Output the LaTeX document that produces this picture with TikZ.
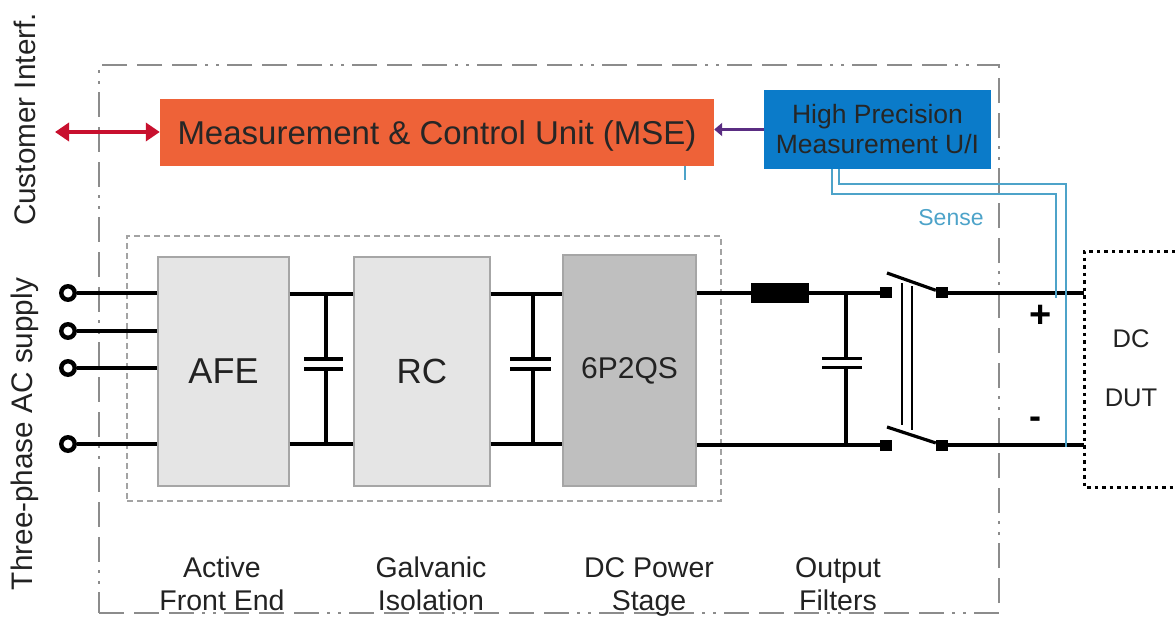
\documentclass[tikz,border=0pt]{standalone}
\usepackage{fontspec}
\setmainfont{Liberation Sans}
\usetikzlibrary{arrows.meta}
\definecolor{msecolor}{HTML}{EE6238}
\definecolor{hpcolor}{HTML}{0B7BC9}
\definecolor{sensecolor}{HTML}{4DA3C9}
\definecolor{framecolor}{HTML}{8C8C8C}
\definecolor{redarrow}{HTML}{C8102E}
\definecolor{purplearrow}{HTML}{5A2D82}
\definecolor{textcolor}{HTML}{222222}
\tikzset{
    stagebox/.style={rectangle,draw=gray!70,line width=1.2pt,fill=gray!20,inner sep=0pt,text=textcolor},
    colorbox/.style={rectangle,inner sep=0pt,align=center,text=black!85},
    terminal/.style={circle,draw,line width=4.4pt,fill=white,inner sep=0pt,minimum size=13.5pt},
    contact/.style={rectangle,fill=black,inner sep=0pt,minimum width=12pt,minimum height=11pt},
    caption/.style={align=center,text=textcolor,text depth=0pt,font=\fontsize{28.5}{33}\selectfont},
    sidetext/.style={rotate=90,text=textcolor,font=\fontsize{29.7}{33}\selectfont},
    wire/.style={line width=4pt},
    sense/.style={draw=sensecolor,line width=1.6pt},
    blade/.style={line width=3.2pt},
    outerframe/.style={draw=framecolor,line width=1.3pt,dash pattern=on 25pt off 10pt on 25pt off 10pt on 25pt off 8pt on 3pt off 8pt on 3pt off 8pt},
    innerframe/.style={draw=framecolor!80,line width=1.1pt,dash pattern=on 6pt off 4pt}
}
\begin{document}
\begin{tikzpicture}[x=1pt,y=-1pt]

            \useasboundingbox (0,0) rectangle (1175,616);

            % frames
            \path (549,339) node (outer) [outerframe,rectangle,minimum width=900pt,minimum height=548pt] {};
            \path (424,368.5) node (inner) [innerframe,rectangle,minimum width=594pt,minimum height=265pt] {};

            \path   (68,293) node (ta) [terminal] {}
                    (68,331) node (tb) [terminal] {}
                    (68,368) node (tc) [terminal] {}
                    (68,444) node (td) [terminal] {}
                    (223.5,371.5) node (afe) [stagebox,minimum width=131pt,minimum height=229pt,font=\fontsize{36}{36}\selectfont] {AFE}
                    (422,371.5) node (rc) [stagebox,minimum width=136pt,minimum height=229pt,font=\fontsize{35}{35}\selectfont] {RC}
                    (629.5,370.5) node (dcdc) [stagebox,fill=gray!50,minimum width=133pt,minimum height=231pt,font=\fontsize{30}{30}\selectfont] {6P2QS}
                    (437,132.5) node (mse) [colorbox,fill=msecolor,text depth=0pt,minimum width=554pt,minimum height=67pt,font=\fontsize{33}{33}\selectfont] {Measurement \& Control Unit (MSE)}
                    (877.5,129.5) node (hp) [colorbox,fill=hpcolor,minimum width=227pt,minimum height=79pt,font=\fontsize{26.5}{30}\selectfont] {High Precision\\Measurement U/I}
                    (780,292.5) node (choke) [rectangle,fill=black,inner sep=0pt,minimum width=58pt,minimum height=20pt] {}
                    (886,292.5) node (swa) [contact] {}
                    (942,292.5) node (swb) [contact] {}
                    (886,445) node (swc) [contact] {}
                    (942,445) node (swd) [contact] {};

            \path   (326,294) coordinate (capat)
                    (326,444) coordinate (capab)
                    (533,294) coordinate (capbt)
                    (533,444) coordinate (capbb)
                    (846,292.5) coordinate (capct)
                    (846,445) coordinate (capcb)
                    (1084,292.5) coordinate (dutp)
                    (1084,445) coordinate (dutn)
                    (887,273) coordinate (blat)
                    (887,427) coordinate (blab)
                    (902,283) coordinate (linkat)
                    (902,425) coordinate (linkab)
                    (912,286) coordinate (linkbt)
                    (912,430) coordinate (linkbb)
                    (55,132) coordinate (custend)
                    (685,180) coordinate (tickend)
                    (832,194) coordinate (sna)
                    (1056,194) coordinate (snb)
                    (1056,298) coordinate (snc)
                    (839,184) coordinate (spa)
                    (1066,184) coordinate (spb)
                    (1066,447) coordinate (spc)
                    (1175,251) coordinate (dutta)
                    (1084,251) coordinate (duttb)
                    (1084,487) coordinate (dutbb)
                    (1175,487) coordinate (dutba);

            % input side
            \draw[wire] (ta) -- (ta -| afe.west);
            \draw[wire] (tb) -- (tb -| afe.west);
            \draw[wire] (tc) -- (tc -| afe.west);
            \draw[wire] (td) -- (td -| afe.west);

            % dc buses
            \draw[wire] (capat -| afe.east) -- (capat -| rc.west);
            \draw[wire] (capab -| afe.east) -- (capab -| rc.west);
            \draw[wire] (capbt -| rc.east) -- (capbt -| dcdc.west);
            \draw[wire] (capbb -| rc.east) -- (capbb -| dcdc.west);
            \draw[wire] (choke -| dcdc.east) -- (choke);
            \draw[wire] (choke) -- (swa);
            \draw[wire] (capcb -| dcdc.east) -- (swc);
            \draw[wire] (swb) -- (dutp);
            \draw[wire] (swd) -- (dutn);

            % capacitors
            \draw[wire,line width=3.4pt] (capat) -- ++(0,65) ++(-22,0) -- ++(39,0) ++(-39,10) -- ++(39,0) ++(-17,0) -- (capab);
            \draw[wire,line width=3.4pt] (capbt) -- ++(0,65) ++(-23,0) -- ++(41,0) ++(-41,10) -- ++(41,0) ++(-18,0) -- (capbb);
            \draw[wire,line width=3.4pt] (capct) -- ++(0,66) ++(-24,0) -- ++(40,0) ++(-40,9) -- ++(40,0) ++(-16,0) -- (capcb);

            % switch
            \draw[blade] (blat) -- (swb);
            \draw[blade] (blab) -- (swd);
            \draw[line width=1.2pt] (linkat) -- (linkab);
            \draw[line width=1.2pt] (linkbt) -- (linkbb);

            % arrows
            \draw[redarrow,line width=3.5pt,{Triangle[length=14pt,width=18pt]}-{Triangle[length=14pt,width=18pt]}] (custend) -- (custend -| mse.west);
            \draw[purplearrow,line width=3pt,-{Triangle[length=8pt,width=13pt]}] (hp.west) -- (hp.west -| mse.east);

            % sense
            \draw[sense] (mse.south -| tickend) -- (tickend);
            \draw[sense] (hp.south -| sna) -- (sna) -- (snb) -- (snc);
            \draw[sense] (hp.south -| spa) -- (spa) -- (spb) -- (spc);

            % device under test
            \draw[line width=3pt,dash pattern=on 3.5pt off 4pt] (dutta) -- (duttb) -- (dutbb) -- (dutba);

            \node (sensetext) at (951,218) [text=sensecolor,font=\fontsize{23}{23}\selectfont] {Sense};
            \node (plus) at (1041,316) [text=black,font=\bfseries\fontsize{38}{38}\selectfont] {+};
            \node (minus) at (1035,423) [text=black,font=\bfseries\fontsize{36}{36}\selectfont] {-};
            \node (dut) at (1131,368.5) [align=center,text=textcolor,font=\fontsize{25.5}{59}\selectfont] {DC\\DUT};

            \node (custtext) at (25,119.5) [sidetext] {Customer Interf.};
            \node (supplytext) at (25,434) [sidetext] {Three-phase AC supply};

            \node (capafe) at (222,584) [caption] {Active\\Front End};
            \node (caprc) at (431,584) [caption] {Galvanic\\Isolation};
            \node (capdc) at (649,584) [caption] {DC Power\\Stage};
            \node (capout) at (838,584) [caption] {Output\\Filters};

\end{tikzpicture}
\end{document}
